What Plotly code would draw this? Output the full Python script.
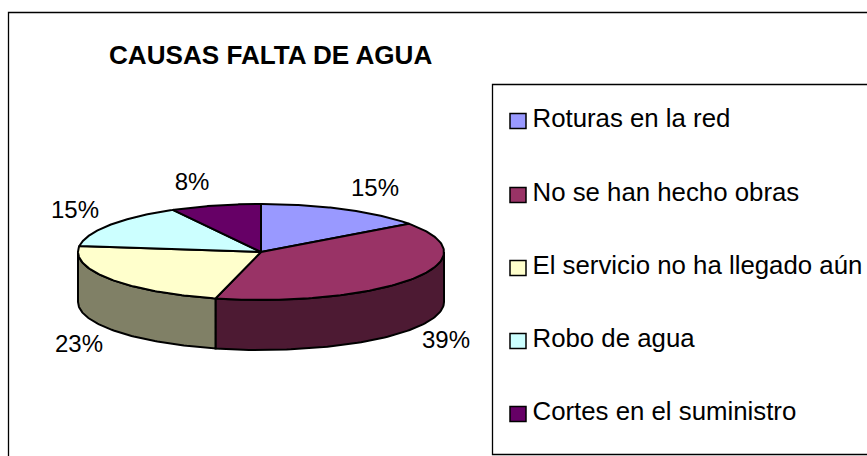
import numpy as np
import plotly.graph_objects as go

categories = ["Roturas en la red", "No se han hecho obras", "El servicio no ha llegado aún", "Robo de agua", "Cortes en el suministro"]
values = [15, 39, 23, 15, 8]
top_colors = ["#9999FF", "#993366", "#FFFFCC", "#CCFFFF", "#660066"]
side_colors = ["#4C4C80", "#4D1A33", "#808066", "#668080", "#330033"]
title_text = "CAUSAS FALTA DE AGUA"

W, H = 867, 456
CX, CY, RX, RY, DEPTH = 261, 252, 183, 48, 50
LINE = "#000000"
FONT = "Liberation Sans, Arial, sans-serif"

fracs = np.array(values, dtype=float) / sum(values)
edges = np.concatenate([[0], np.cumsum(fracs)]) * 2 * np.pi
px = lambda a: CX + RX * np.sin(a)
py = lambda a: CY - RY * np.cos(a)

fig = go.Figure()

def poly(xs, ys, fill, width=2):
    fig.add_trace(go.Scatter(x=list(xs), y=list(ys), mode="lines", fill="toself", fillcolor=fill,
                             line=dict(color=LINE, width=width), hoverinfo="skip", showlegend=False))

# side walls (only the front half, pi/2 .. 3pi/2, is visible)
for i in range(len(values)):
    a0, a1 = max(edges[i], np.pi / 2), min(edges[i + 1], 3 * np.pi / 2)
    if a1 <= a0:
        continue
    t = np.linspace(a0, a1, 80)
    xs = np.concatenate([px(t), px(t[::-1]), [px(t[0])]])
    ys = np.concatenate([py(t), py(t[::-1]) + DEPTH, [py(t[0])]])
    poly(xs, ys, side_colors[i])

# top faces
for i in range(len(values)):
    t = np.linspace(edges[i], edges[i + 1], 120)
    xs = np.concatenate([[CX], px(t), [CX]])
    ys = np.concatenate([[CY], py(t), [CY]])
    poly(xs, ys, top_colors[i])

# percentage labels
label_x = [375, 446, 79, 75, 192]
label_y = [190, 342, 346, 212, 184]
fig.add_trace(go.Scatter(x=label_x, y=label_y, mode="text",
                         text=[f"{round(v / sum(values) * 100)}%" for v in values],
                         textposition="middle center",
                         textfont=dict(family=FONT, size=24, color="#000000"),
                         hoverinfo="skip", showlegend=False))

# legend entries
legend_y = [121, 195, 268, 341, 414]
fig.add_trace(go.Scatter(x=[532.5] * 5, y=legend_y, mode="text", text=categories,
                         textposition="middle right",
                         textfont=dict(family=FONT, size=25.8, color="#000000"),
                         hoverinfo="skip", showlegend=False))

shapes = [
    dict(type="rect", x0=8.5, y0=12.5, x1=W + 5, y1=H + 5, line=dict(color=LINE, width=1.3), layer="below"),
    dict(type="rect", x0=492.5, y0=84.5, x1=W + 5, y1=454.5, line=dict(color=LINE, width=1.3), layer="below"),
]
for c, y in zip(top_colors, legend_y):
    shapes.append(dict(type="rect", x0=510, x1=526, y0=y - 7.5, y1=y + 7.5, fillcolor=c,
                       line=dict(color=LINE, width=1.5), layer="above"))

fig.update_layout(
    width=W, height=H, margin=dict(l=0, r=0, t=0, b=0),
    paper_bgcolor="#FFFFFF", plot_bgcolor="#FFFFFF", showlegend=False, shapes=shapes,
    xaxis=dict(range=[0, W], visible=False, fixedrange=True),
    yaxis=dict(range=[H, 0], visible=False, fixedrange=True),
    annotations=[dict(text=f"<b>{title_text}</b>", x=106.5, y=55, xref="x", yref="y", xanchor="left",
                      yanchor="middle", showarrow=False, font=dict(family=FONT, size=26.1, color="#000000"))],
)
fig.write_html("out.html", config=dict(displayModeBar=False),
               post_script="document.body.style.margin='0';document.body.style.overflow='hidden';")
